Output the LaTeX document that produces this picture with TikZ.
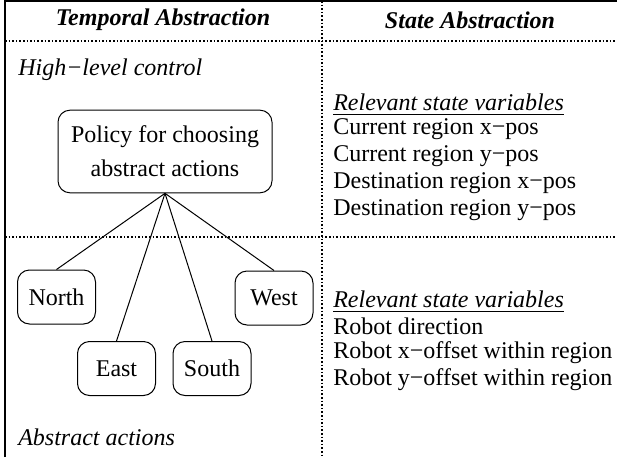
\documentclass[tikz,border=0pt]{standalone}
\usepackage{fontspec}
\setmainfont{Liberation Serif}
\begin{document}
\begin{tikzpicture}[x=0.75pt,y=-0.75pt,
  every node/.style={font=\fontsize{18}{22.5}\selectfont, inner sep=0pt},
  frame/.style={line width=1pt, black},
  dotline/.style={line width=0.8pt, dash pattern=on 1.2pt off 1.5pt},
  hdr/.style={font=\fontsize{18}{22.5}\selectfont\bfseries\itshape},
  lbl/.style={font=\fontsize{18}{22.5}\selectfont\itshape, anchor=west},
  item/.style={anchor=west},
  rbox/.style={draw, line width=0.75pt, rounded corners=9pt, align=center,
    minimum width=58.5pt, minimum height=40.5pt},
  link/.style={line width=0.75pt}]
\useasboundingbox (0,0) rectangle (617,457);
% frame and dividers
\draw[frame] (5,457) -- (5,1) -- (617,1);
\draw[dotline] (5,41) -- (617,41);
\draw[dotline] (5,237) -- (617,237);
\draw[dotline] (322,1) -- (322,457);
% headers
\node[hdr] (h1) at (163,20) {Temporal Abstraction};
\node[hdr] (h2) at (470,20) {State Abstraction};
% left column
\node[lbl] (hl) at (18,70) {High−level control};
\node[rbox, minimum width=160.5pt, minimum height=62pt, align=center] (pol) at (165,151.5)
  {Policy for choosing\\[3pt]abstract actions};
\node[rbox] (n) at (56.5,297) {North};
\node[rbox] (w) at (274,298) {West};
\node[rbox] (e) at (116.5,368.5) {East};
\node[rbox] (s) at (212,368.5) {South};
\draw[link] (pol.south) -- (n.north);
\draw[link] (pol.south) -- (e.north);
\draw[link] (pol.south) -- (s.north);
\draw[link] (pol.south) -- (w.north);
\node[lbl] (aa) at (18,437) {Abstract actions};
% right column, upper
\node[lbl, inner ysep=3pt] (r1) at (333,102) {Relevant state variables};
\draw[line width=0.75pt] (r1.south west) -- (r1.south east);
\node[item] (c1) at (333,129) {Current region x−pos};
\node[item] (c2) at (333,156) {Current region y−pos};
\node[item] (c3) at (333,183) {Destination region x−pos};
\node[item] (c4) at (333,210) {Destination region y−pos};
% right column, lower
\node[lbl, inner ysep=3pt] (r2) at (333,299) {Relevant state variables};
\draw[line width=0.75pt] (r2.south west) -- (r2.south east);
\node[item] (d1) at (333,326) {Robot direction};
\node[item] (d2) at (333,353) {Robot x−offset within region};
\node[item] (d3) at (333,380) {Robot y−offset within region};
\end{tikzpicture}
\end{document}
